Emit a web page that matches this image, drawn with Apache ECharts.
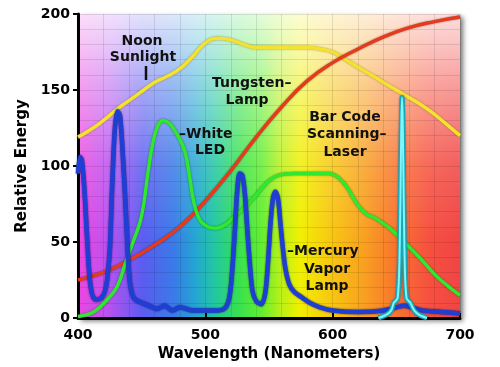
<!DOCTYPE html>
<html>
<head>
<meta charset="utf-8">
<script src="https://cdn.jsdelivr.net/npm/echarts@6/dist/echarts.min.js"></script>
<style>
html,body{margin:0;padding:0;background:#fff;}
#chart{width:500px;height:367px;}
</style>
</head>
<body>
<div id="chart"></div>
<script>
// ---- data (wavelength nm, relative energy) ----
const xTicks = [400, 500, 600, 700];
const yTicks = [0, 50, 100, 150, 200];

const sunlight = [[400,119],[410,124],[420,130],[430,137],[440,143],[450,149],[460,155],[470,159],[480,164],[490,172],[500,181],[510,184],[520,183],[530,180],[540,178],[550,178],[560,178],[570,178],[580,178],[590,177],[600,175],[610,170],[620,165],[630,160],[640,155],[650,150],[660,145],[670,140],[680,134],[690,127],[700,120]];

const tungsten = [[400,25],[420,30],[440,38],[460,48],[480,60],[500,77],[520,97],[540,119],[560,139],[580,156],[600,168],[620,177],[640,185],[660,191],[680,195],[700,198]];

const whiteLed = [[400,1],[410,3],[417,7],[425,14],[431,21],[438,38],[445,54],[449,64],[452,77],[455,96],[459,116],[463,127],[467,130],[472,128],[477,122],[482,114],[485,106],[488,91],[491,76],[496,64],[502,60],[508,59],[515,61],[522,66],[530,72],[538,79],[545,86],[551,91],[558,94],[570,95],[585,95],[597,95],[605,92],[612,85],[620,74],[627,68],[633,66],[645,59],[655,51],[668,40],[681,28],[692,20],[700,15]];

const mercury = [[400,95],[401.5,106],[403,104],[405,85],[407,55],[409,28],[411,16],[414,12],[418,13],[421,17],[423,26],[425,45],[427,90],[429,125],[431,136],[433,133],[435,110],[437,80],[439,45],[441,22],[444,13],[450,10],[456,8],[462,6],[468,8],[474,5],[480,7],[490,5],[500,5],[510,5],[516,7],[519,14],[521,30],[523,55],[525,83],[527,95],[529,94],[531,82],[533,58],[535,35],[537,18],[540,11],[544,9],[547,16],[549,34],[551,60],[553,78],[555,83],[557,79],[559,62],[561,45],[563,32],[566,22],[570,17],[575,14],[582,10],[590,7],[600,5],[620,4],[640,5],[650,7],[656,8],[662,7],[670,5],[685,4],[700,3]];

const laser = [[636,0],[642,2],[646,5],[648,10],[651,13],[652.5,40],[654.5,145],[656.5,40],[658,13],[661,10],[664,5],[668,2],[674,0]];

const FONT = '"DejaVu Sans", sans-serif';
const chart = echarts.init(document.getElementById('chart'), null, {renderer:'canvas'});

const spectrum = new echarts.graphic.LinearGradient(0,0,1,0,[
  {offset:0.00,color:'#ee46e0'},
  {offset:0.08,color:'#b852f0'},
  {offset:0.17,color:'#5a5cf0'},
  {offset:0.25,color:'#3a7ae8'},
  {offset:0.31,color:'#22a8d0'},
  {offset:0.36,color:'#22c8a0'},
  {offset:0.42,color:'#38e050'},
  {offset:0.48,color:'#60ee30'},
  {offset:0.53,color:'#b8f018'},
  {offset:0.58,color:'#f0f000'},
  {offset:0.66,color:'#f8c810'},
  {offset:0.75,color:'#f8a020'},
  {offset:0.84,color:'#f87030'},
  {offset:0.92,color:'#f65040'},
  {offset:1.00,color:'#f04444'}
]);
const fade = new echarts.graphic.LinearGradient(0,0,0,1,[
  {offset:0,color:'rgba(255,255,255,0.82)'},
  {offset:0.25,color:'rgba(255,255,255,0.45)'},
  {offset:0.5,color:'rgba(255,255,255,0.14)'},
  {offset:0.75,color:'rgba(255,255,255,0)'},
  {offset:1,color:'rgba(255,255,255,0)'}
]);

function lineSeries(name, data, color, width, z, shadow, smooth){
  return {
    name, type:'line', data, smooth: smooth, symbol:'none', z,
    lineStyle:{color, width, shadowColor: shadow || 'rgba(0,0,0,0.45)', shadowBlur:2},
    silent:true
  };
}

const annotations = [
  {t:'Noon', x:142, y:41, a:'center'},
  {t:'Sunlight', x:143, y:57, a:'center'},
  {t:'Tungsten–', x:212, y:83, a:'left'},
  {t:'Lamp', x:247, y:100, a:'center'},
  {t:'–White', x:179, y:134, a:'left'},
  {t:'LED', x:210, y:150, a:'center'},
  {t:'Bar Code', x:345, y:117, a:'center'},
  {t:'Scanning–', x:307, y:134, a:'left'},
  {t:'Laser', x:345, y:152, a:'center'},
  {t:'–Mercury', x:287, y:251, a:'left'},
  {t:'Vapor', x:327, y:269, a:'center'},
  {t:'Lamp', x:327, y:286, a:'center'}
];

const graphics = annotations.map(o => ({
  type:'text', x:o.x, y:o.y, z:100,
  style:{text:o.t, fill:'#111', font:'bold 14px ' + FONT, textAlign:o.a, textVerticalAlign:'middle'}
}));
graphics.push({type:'line', z:100, shape:{x1:146,y1:66,x2:146,y2:80}, style:{stroke:'#111', lineWidth:2.5}});

const axisCommon = {
  z: 2,
  axisLine:{show:true, onZero:false, lineStyle:{color:'#000', width:3}},
  splitLine:{show:true, lineStyle:{color:'rgba(0,0,0,0.10)', width:1}},
  minorSplitLine:{show:true, lineStyle:{color:'rgba(0,0,0,0.10)', width:1}},
  minorTick:{show:false, splitNumber:5},
  axisLabel:{color:'#000', fontFamily:FONT, fontWeight:'bold', fontSize:14},
  nameTextStyle:{color:'#000', fontFamily:FONT, fontWeight:'bold', fontSize:15}
};

const xMin = xTicks[0], xMax = xTicks[xTicks.length-1];
const yMin = yTicks[0], yMax = yTicks[yTicks.length-1];

chart.setOption({
  animation:false,
  backgroundColor:'#fff',
  grid:{left:78, right:40, top:14, bottom:49, show:true, borderWidth:0,
        backgroundColor:spectrum,
        shadowColor:'rgba(0,0,0,0.55)', shadowBlur:5, shadowOffsetX:3, shadowOffsetY:3},
  xAxis: Object.assign({}, axisCommon, {
    type:'value', min:xMin, max:xMax, interval:100,
    name:'Wavelength (Nanometers)', nameLocation:'middle', nameGap:27,
    axisTick:{show:true, inside:true, length:5, lineStyle:{color:'#000', width:2}},
    axisLabel:Object.assign({}, axisCommon.axisLabel, {margin:10})
  }),
  yAxis: Object.assign({}, axisCommon, {
    type:'value', min:yMin, max:yMax, interval:50,
    name:'Relative Energy', nameLocation:'middle', nameGap:34,
    axisTick:{show:true, inside:false, length:5, lineStyle:{color:'#000', width:2}},
    axisLabel:Object.assign({}, axisCommon.axisLabel, {margin:8})
  }),
  graphic:graphics,
  series:[
    {type:'line', data:[[xMin,yMin],[xMax,yMax]], symbol:'none', lineStyle:{opacity:0}, z:1, silent:true,
     markArea:{silent:true, itemStyle:{color:fade},
       data:[[{coord:[xMin, yMax]},{coord:[xMax, yMin]}]]}},
    lineSeries('Noon Sunlight', sunlight, '#f4e230', 3.5, 3, 'rgba(120,90,0,0.6)', 0.5),
    lineSeries('Tungsten Lamp', tungsten, '#e63a1c', 3.5, 4, null, 0.5),
    lineSeries('White LED', whiteLed, '#30e830', 3.5, 5, 'rgba(0,80,0,0.6)', 0.4),
    lineSeries('Mercury Vapor Lamp', mercury, '#1f3ed4', 4.5, 6, 'rgba(0,0,60,0.7)', 0.3),
    lineSeries('Bar Code Scanning Laser', laser, '#1aa6b8', 5, 7, 'rgba(0,60,80,0.5)', 0.3),
    {name:'Laser core', type:'line', data:laser, smooth:0.3, symbol:'none', z:8, silent:true,
     lineStyle:{color:'#7ef6fa', width:2}}
  ]
});
</script>
</body>
</html>
